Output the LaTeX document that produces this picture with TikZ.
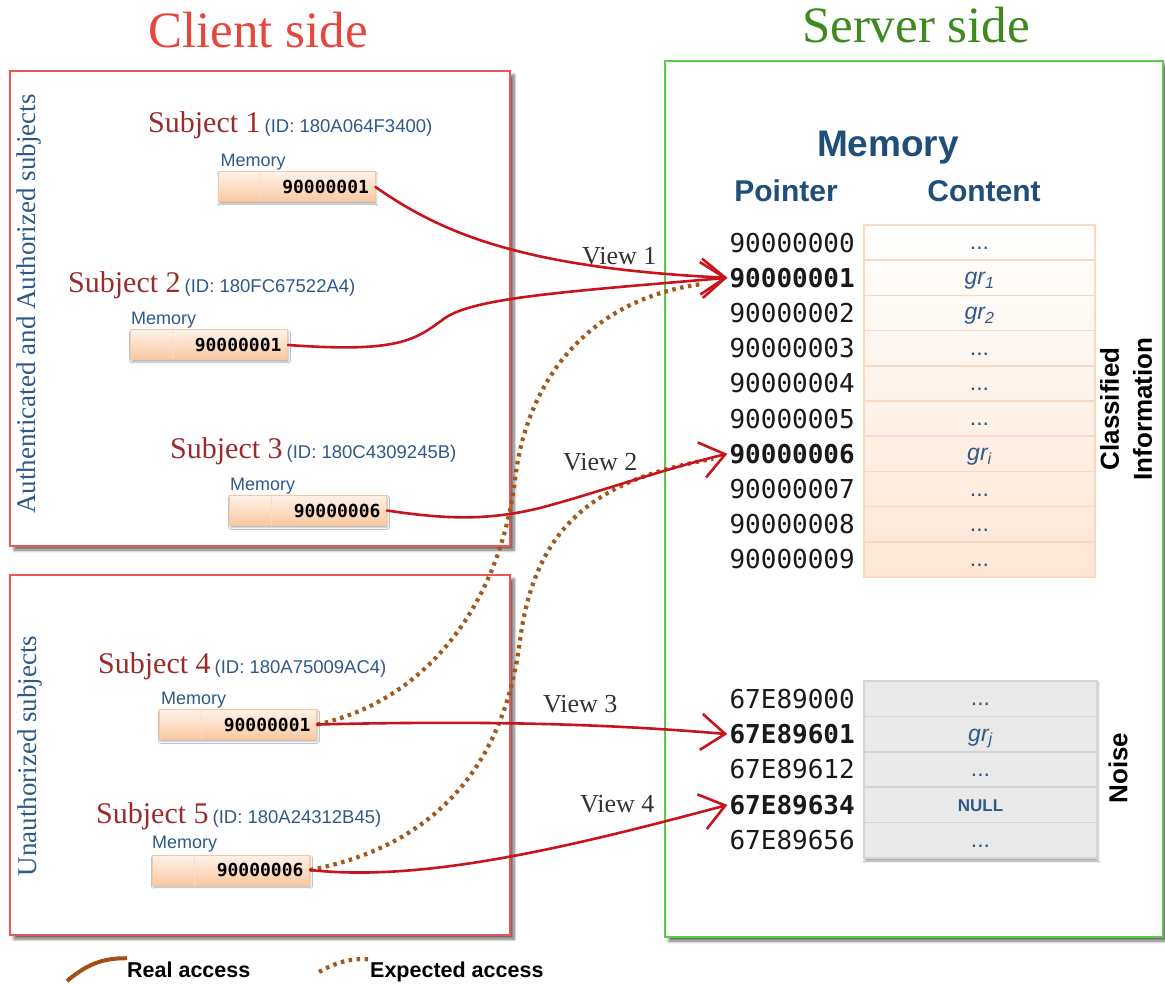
\documentclass[tikz,border=0pt]{standalone}
\usepackage{fontspec}
\setmainfont{Liberation Serif}
\setsansfont{Liberation Sans}
\newfontfamily\monofam{DejaVu Sans Mono}
\usetikzlibrary{arrows.meta,shadows.blur}

\definecolor{clientred}{HTML}{E8453C}
\definecolor{servergreen}{HTML}{3D8B1F}
\definecolor{boxred}{HTML}{F05555}
\definecolor{boxgreen}{HTML}{5CC84C}
\definecolor{subjred}{HTML}{9A2B2B}
\definecolor{idblue}{HTML}{2F5A88}
\definecolor{headblue}{HTML}{1F4E79}
\definecolor{linkred}{HTML}{C8141C}
\definecolor{dotbrown}{HTML}{A3581E}
\definecolor{legbrown}{HTML}{A24F17}
\definecolor{peachedge}{HTML}{F6C7A2}
\definecolor{peachtop}{HTML}{FFF2E8}
\definecolor{peachbot}{HTML}{F9C8A0}
\definecolor{celledge}{HTML}{FBD9C0}
\definecolor{cellpeach}{HTML}{FDE6D5}
\definecolor{noisefill}{HTML}{E9E9E9}
\definecolor{noiseedge}{HTML}{D4D4D4}

\newcommand{\grv}[1]{\textit{gr\textsubscript{#1}}}
\newcommand{\threedots}{...}
\newcommand{\idtxt}[1]{{\sffamily\fontsize{18.5}{22}\selectfont\color{idblue}#1}}

\begin{document}
\begin{tikzpicture}[x=1pt,y=-1pt,
  clientbox/.style={draw=boxred, line width=1.3pt, fill=white, inner sep=0pt,
    blur shadow={shadow xshift=4pt, shadow yshift=-4pt, shadow blur radius=3pt,
      shadow blur steps=6, shadow opacity=60}},
  serverbox/.style={clientbox, draw=boxgreen},
  sidelbl/.style={rotate=90, font=\fontsize{27}{32}\selectfont, text=idblue},
  subj/.style={font=\fontsize{30}{36}\selectfont, text=subjred, inner sep=0pt, anchor=base west},
  memlbl/.style={font=\sffamily\fontsize{18}{20}\selectfont, text=idblue, inner sep=0pt, anchor=base west},
  membox/.style={draw=peachedge, line width=1pt, top color=peachtop, bottom color=peachbot,
    minimum width=157pt, minimum height=30pt, text width=145pt, align=right,
    inner xsep=6pt, inner ysep=0pt, font=\monofam\bfseries\fontsize{18}{20}\selectfont,
    blur shadow={shadow xshift=1pt, shadow yshift=-2pt, shadow blur steps=3, shadow opacity=30},
    path picture={\draw[white!40!peachedge, line width=1pt]
      ([xshift=42pt]path picture bounding box.north west) --
      ([xshift=42pt]path picture bounding box.south west);}},
  head/.style={font=\sffamily\bfseries\fontsize{30}{32}\selectfont, text=headblue, anchor=base},
  ptr/.style={font=\monofam\fontsize{26}{28}\selectfont, text=black!90, inner sep=2pt, anchor=east},
  ccell/.style={draw=celledge, line width=1.5pt, minimum width=231pt, minimum height=35.2pt,
    inner sep=0pt, text height=14pt, text depth=0pt,
    font=\sffamily\fontsize{23}{24}\selectfont, text=idblue},
  ncell/.style={ccell, draw=noiseedge, minimum height=35.4pt, minimum width=233pt},
  sidehead/.style={rotate=90, font=\sffamily\bfseries\fontsize{26}{33}\selectfont, align=center},
  link/.style={draw=linkred, line width=2.6pt, line cap=round},
  linkarrow/.style={link, -{Straight Barb[length=24pt,width=36pt,line width=2.6pt]}},
  expect/.style={draw=dotbrown, line width=4.2pt, dash pattern=on 3.5pt off 4.5pt},
  viewlbl/.style={font=\fontsize{26}{30}\selectfont, text=black!80, anchor=base west, inner sep=0pt},
  legtxt/.style={font=\sffamily\bfseries\fontsize{21.5}{24}\selectfont, anchor=base west, inner sep=0pt}
]
\useasboundingbox (0,0) rectangle (1165,984);

% titles
\node[font=\fontsize{51}{56}\selectfont, text=clientred, anchor=base] (tclient) at (258,48) {Client side};
\node[font=\fontsize{51}{56}\selectfont, text=servergreen, anchor=base] (tserver) at (916,43) {Server side};

% frames
\node[clientbox, minimum width=500pt, minimum height=475pt] (auth) at (260,308.5) {};
\node[clientbox, minimum width=500pt, minimum height=360pt] (unauth) at (260,755) {};
\node[serverbox, minimum width=498pt, minimum height=876pt] (server) at (914,499) {};

\node[sidelbl] (lauth) at (29,304) {Authenticated and Authorized subjects};
\node[sidelbl] (lunauth) at (30,756) {Unauthorized subjects};

% subjects and their local memory
\node[subj] (s1) at (148,133) {Subject 1\hspace{4pt}\idtxt{(ID: 180A064F3400)}};
\node[membox] (m1) at (296.5,187) {90000001};
\node[memlbl] (ml1) at ([shift={(3,-5)}]m1.north west) {Memory};

\node[subj] (s2) at (68,293) {Subject 2\hspace{4pt}\idtxt{(ID: 180FC67522A4)}};
\node[membox] (m2) at (209,345) {90000001};
\node[memlbl] (ml2) at ([shift={(1,-5)}]m2.north west) {Memory};

\node[subj] (s3) at (170,458) {Subject 3\hspace{4pt}\idtxt{(ID: 180C4309245B)}};
\node[membox] (m3) at (308,510.5) {90000006};
\node[memlbl] (ml3) at ([shift={(1,-5)}]m3.north west) {Memory};

\node[subj] (s4) at (98,673) {Subject 4\hspace{4pt}\idtxt{(ID: 180A75009AC4)}};
\node[membox] (m4) at (238,724.5) {90000001};
\node[memlbl] (ml4) at ([shift={(2,-5)}]m4.north west) {Memory};

\node[subj] (s5) at (96,823) {Subject 5\hspace{4pt}\idtxt{(ID: 180A24312B45)}};
\node[membox] (m5) at (231,870) {90000006};
\node[memlbl] (ml5) at ([shift={(0,-6)}]m5.north west) {Memory};

% server memory table
\node[font=\sffamily\bfseries\fontsize{37}{40}\selectfont, text=headblue, anchor=base] (hmem) at (888,157) {Memory};
\node[head] (hptr) at (786,202) {Pointer};
\node[head] (hcont) at (984,202) {Content};

\fill[top color=white, bottom color=cellpeach] (864,225) rectangle (1095,577);
\foreach \i/\addr/\ser/\cont in {
  0/90000000/\mdseries/\threedots,
  1/90000001/\bfseries/{\grv{1}},
  2/90000002/\mdseries/{\grv{2}},
  3/90000003/\mdseries/\threedots,
  4/90000004/\mdseries/\threedots,
  5/90000005/\mdseries/\threedots,
  6/90000006/\bfseries/{\grv{i}},
  7/90000007/\mdseries/\threedots,
  8/90000008/\mdseries/\threedots,
  9/90000009/\mdseries/\threedots}
{
  \node[ptr] (p\i) at (857,{242.6+35.2*\i}) {\ser\addr};
  \node[ccell] (c\i) at (979.5,{242.6+35.2*\i}) {\cont};
}
\node[sidehead] (lclass) at (1126,409) {Classified\\Information};

\fill[noisefill, blur shadow={shadow xshift=1pt, shadow yshift=-3pt, shadow blur steps=3, shadow opacity=35}]
  (864,681) rectangle (1097,858);
\foreach \i/\addr/\ser/\cont in {
  0/67E89000/\mdseries/\threedots,
  1/67E89601/\bfseries/{\grv{j}},
  2/67E89612/\mdseries/\threedots,
  3/67E89634/\bfseries/{\bfseries\fontsize{17}{18}\selectfont NULL},
  4/67E89656/\mdseries/\threedots}
{
  \node[ptr] (n\i) at (857,{698.7+35.4*\i}) {\ser\addr};
  \node[ncell] (d\i) at (980.5,{698.7+35.4*\i}) {\cont};
}
\node[sidehead] (lnoise) at (1118,768) {Noise};

% expected accesses
\draw[expect] (m4.east) .. controls (430,700) and (500,600) .. (515,480)
  .. controls (525,390) and (580,300) .. ([shift={(-24,6)}]p1.west);
\draw[expect] (m5.east) .. controls (440,845) and (505,760) .. (520,640)
  .. controls (535,530) and (590,480) .. ([shift={(-14,5)}]p6.west);

% real accesses
\draw[linkarrow] (m1.east) .. controls (440,232) and (520,268) .. (p1.west);
\draw[linkarrow] (m2.east) .. controls (400,353) and (415,340) .. (445,318)
  .. controls (475,298) and (560,292) .. (p1.west);
\draw[linkarrow] (m3.east) .. controls (450,520) and (490,520) .. (540,508)
  .. controls (600,492) and (660,470) .. (p6.west);
\draw[linkarrow] (m4.east) .. controls (500,720) and (620,725) .. (n1.west);
\draw[linkarrow] (m5.east) .. controls (420,882) and (560,850) .. (n3.west);

\node[viewlbl] (v1) at (582,265) {View 1};
\node[viewlbl] (v2) at (563,470) {View 2};
\node[viewlbl] (v3) at (543,712) {View 3};
\node[viewlbl] (v4) at (580,812) {View 4};

% legend
\node[legtxt] (lreal) at (127,977) {Real access};
\node[legtxt] (lexp) at (370,977) {Expected access};
\coordinate (lr0) at (67,981);
\coordinate (le0) at (319,972);
\draw[legbrown, line width=4pt] (lr0) .. controls (85,966) and (100,958) .. ([shift={(0,-3)}]lreal.north west);
\draw[expect] (le0) .. controls (335,963) and (350,958) .. ([shift={(-2,-2)}]lexp.north west);
\end{tikzpicture}
\end{document}
